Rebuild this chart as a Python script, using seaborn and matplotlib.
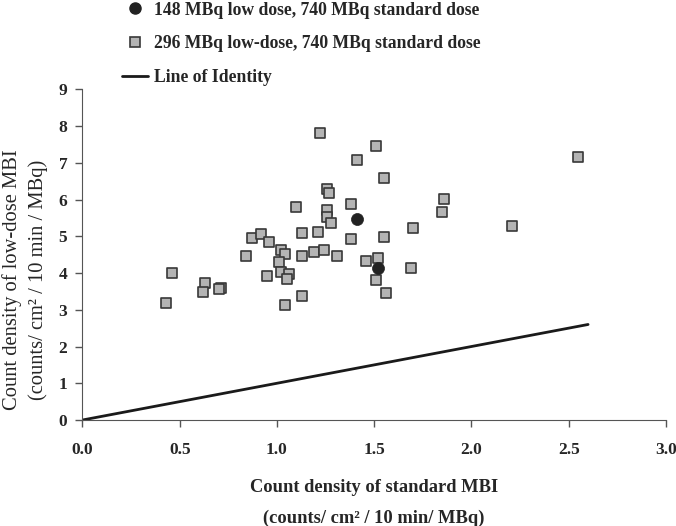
import matplotlib
matplotlib.use('Agg')
import matplotlib.pyplot as plt
import seaborn as sns
from matplotlib.lines import Line2D

# ---------------- data ---------------- #
# 148 MBq low dose group (black circles)
std_148 = [1.41, 1.52]
low_148 = [5.47, 4.14]

# 296 MBq low dose group (grey squares)
std_296 = [0.43, 0.46, 0.63, 0.62, 0.71, 0.70, 0.84, 0.87, 0.92, 0.96,
           1.02, 1.04, 1.01, 1.02, 1.06, 1.05, 0.95, 1.04, 1.13, 1.13,
           1.19, 1.24, 1.13, 1.21, 1.10, 1.26, 1.26, 1.28, 1.26, 1.27,
           1.31, 1.22, 1.51, 1.41, 1.55, 1.38, 1.38, 1.55, 1.46, 1.52,
           1.51, 1.56, 1.69, 1.70, 1.85, 1.86, 2.21, 2.55]
low_296 = [3.18, 4.00, 3.73, 3.48, 3.59, 3.57, 4.46, 4.95, 5.06, 4.84,
           4.63, 4.52, 4.30, 4.03, 3.97, 3.84, 3.92, 3.13, 3.38, 4.46,
           4.57, 4.63, 5.09, 5.12, 5.80, 5.72, 5.53, 5.36, 6.29, 6.18,
           4.46, 7.81, 7.46, 7.08, 6.59, 5.88, 4.93, 4.98, 4.33, 4.41,
           3.81, 3.46, 4.14, 5.23, 5.66, 6.02, 5.28, 7.16]

identity_x = [0, 2.6]
identity_y = [0, 2.6]

x_ticks = [0.0, 0.5, 1.0, 1.5, 2.0, 2.5, 3.0]
y_ticks = list(range(0, 10))

label_148 = '148 MBq low dose, 740 MBq standard dose'
label_296 = '296 MBq low-dose, 740 MBq standard dose'
label_line = 'Line of Identity'

sns.set_style('ticks')
plt.rcParams['font.family'] = ['Liberation Serif', 'DejaVu Serif']
plt.rcParams['font.weight'] = 'bold'

fig = plt.figure(figsize=(6.76, 5.26), dpi=100)
ax = fig.add_axes([0.122, 0.2015, 0.863, 0.6287])

sns.lineplot(x=identity_x, y=identity_y, color='#1a1a1a', linewidth=2, ax=ax)
sns.scatterplot(x=std_296, y=low_296, marker='s', s=60,
                color='#b4b4b4', edgecolor='#383838', linewidth=1.2, ax=ax, zorder=3)
sns.scatterplot(x=std_148, y=low_148, marker='o', s=75,
                color='#222222', edgecolor='#222222', linewidth=0.5, ax=ax, zorder=4)

ax.set(xlim=(0, 3.0), ylim=(0, 9))
ax.set_xticks(x_ticks)
ax.set_xticklabels([f'{t:.1f}' for t in x_ticks])
ax.set_yticks(y_ticks)
ax.tick_params(axis='both', labelsize=12.5, length=5, width=1, color='#555555', pad=6)
ax.tick_params(axis='x', pad=11)
for sp in ['top', 'right']:
    ax.spines[sp].set_visible(False)
for sp in ['left', 'bottom']:
    ax.spines[sp].set_color('#555555')

ax.set_xlabel('Count density of standard MBI\n(counts/ cm² / 10 min/ MBq)',
              fontsize=13.3, fontweight='bold', linespacing=2.0, labelpad=15)
# y label is set in regular weight in the original
ax.set_ylabel('Count density of low-dose MBI\n(counts/ cm² / 10 min / MBq)',
              fontsize=14.8, fontweight='normal', linespacing=1.45)
ax.yaxis.set_label_coords(-0.059, 0.425)

handles = [
    Line2D([], [], marker='o', linestyle='none', markersize=8,
           markerfacecolor='#222222', markeredgecolor='#222222'),
    Line2D([], [], marker='s', linestyle='none', markersize=7.5,
           markerfacecolor='#b4b4b4', markeredgecolor='#383838', markeredgewidth=1.2),
    Line2D([], [], color='#1a1a1a', linewidth=2),
]
fig.legend(handles, [label_148, label_296, label_line],
           loc='upper left', bbox_to_anchor=(0.18, 0.997), frameon=False,
           fontsize=12.7, borderpad=0, borderaxespad=0, handlelength=1.5,
           handletextpad=0.36, labelspacing=0.95)

fig.savefig('out.png', dpi=100)
